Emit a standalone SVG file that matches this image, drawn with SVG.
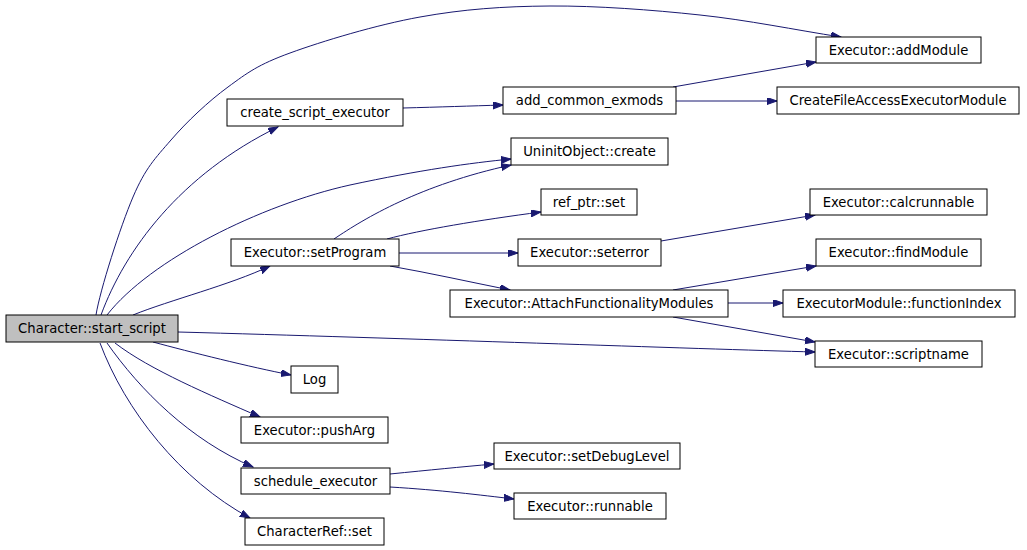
<svg xmlns="http://www.w3.org/2000/svg" width="1027" height="550" viewBox="0 0 1027 550">
<style>
.n rect{fill:#ffffff;stroke:#000000;stroke-width:1}
.n text{font-family:"DejaVu Sans",sans-serif;font-size:13.2px;fill:#000000;text-anchor:middle}
#edges path{fill:none;stroke:#191970;stroke-width:1;marker-end:url(#arr)}
</style>
<defs>
<marker id="arr" markerUnits="userSpaceOnUse" markerWidth="11" markerHeight="8" refX="10" refY="3.5" orient="auto">
<path d="M0,0 L10,3.5 L0,7 z" fill="#191970" stroke="#191970" stroke-width="1"/>
</marker>
</defs>
<rect width="1027" height="550" fill="#ffffff"/>
<g id="edges">
<path d="M96,315 C100,290 120.5,226.2 133,197 C145.5,167.8 155.2,158.3 171,140 C186.8,121.7 208.2,101.5 228,87 C247.8,72.5 258,64.7 290,53 C322,41.3 376.7,24.8 420,17 C463.3,9.2 503.3,6.3 550,6 C596.7,5.7 651.5,9.8 700,15 C748.5,20.2 794,29.7 841,37"/>
<path d="M101,315 C125,250 180,175 278,127"/>
<path d="M107,315 C150,260 260,205 350,185 C420,170 470,163 511,159"/>
<path d="M334,239 C365,218 420,185 511,165"/>
<path d="M133,315 C170,300 230,285 270,266"/>
<path d="M178,332 C400,338 700,349 815,352"/>
<path d="M153,342 C190,352 250,367 291,375"/>
<path d="M115,343 C150,370 210,395 260,417"/>
<path d="M107,343 C140,390 190,440 253,467"/>
<path d="M100,343 C125,410 180,480 250,518"/>
<path d="M403,108 C440,107 470,106 503,105"/>
<path d="M673,87 L816,62"/>
<path d="M676,101 L777,101"/>
<path d="M387,239 C420,230 480,220 541,212"/>
<path d="M399,253 L518,253"/>
<path d="M390,266 C430,273 470,282 510,290"/>
<path d="M661,241 L815,215"/>
<path d="M673,290 L816,266"/>
<path d="M728,303 L783,303"/>
<path d="M673,317 L815,342"/>
<path d="M390,474 C430,470 460,467 494,464"/>
<path d="M390,487 C440,490 480,495 514,499"/>
</g>
<g id="start_script" class="n"><rect x="6" y="315" width="172" height="27" style="fill:#bfbfbf"/><text x="92" y="333">Character::start_script</text></g>
<g id="create_script_executor" class="n"><rect x="227" y="99" width="176" height="27"/><text x="315" y="117">create_script_executor</text></g>
<g id="add_common_exmods" class="n"><rect x="503" y="87" width="173" height="27"/><text x="589.5" y="105">add_common_exmods</text></g>
<g id="addModule" class="n"><rect x="816" y="37" width="165" height="26"/><text x="898.5" y="54.5">Executor::addModule</text></g>
<g id="CreateFileAccessExecutorModule" class="n"><rect x="777" y="87" width="242" height="27"/><text x="898" y="105">CreateFileAccessExecutorModule</text></g>
<g id="UninitObject_create" class="n"><rect x="511" y="138" width="157" height="27"/><text x="589.5" y="156">UninitObject::create</text></g>
<g id="ref_ptr_set" class="n"><rect x="541" y="189" width="96" height="26"/><text x="589" y="206.5">ref_ptr::set</text></g>
<g id="calcrunnable" class="n"><rect x="810" y="189" width="177" height="26"/><text x="898.5" y="206.5">Executor::calcrunnable</text></g>
<g id="setProgram" class="n"><rect x="231" y="239" width="168" height="27"/><text x="315" y="257">Executor::setProgram</text></g>
<g id="seterror" class="n"><rect x="518" y="239" width="143" height="27"/><text x="589.5" y="257">Executor::seterror</text></g>
<g id="findModule" class="n"><rect x="816" y="239" width="165" height="27"/><text x="898.5" y="257">Executor::findModule</text></g>
<g id="AttachFunctionalityModules" class="n"><rect x="450" y="290" width="278" height="27"/><text x="589" y="308">Executor::AttachFunctionalityModules</text></g>
<g id="functionIndex" class="n"><rect x="783" y="290" width="232" height="27"/><text x="899" y="308">ExecutorModule::functionIndex</text></g>
<g id="scriptname" class="n"><rect x="815" y="341" width="167" height="26"/><text x="898.5" y="358.5">Executor::scriptname</text></g>
<g id="Log" class="n"><rect x="291" y="366" width="47" height="27"/><text x="314.5" y="384">Log</text></g>
<g id="pushArg" class="n"><rect x="241" y="417" width="147" height="26"/><text x="314.5" y="434.5">Executor::pushArg</text></g>
<g id="setDebugLevel" class="n"><rect x="494" y="443" width="186" height="26"/><text x="587" y="460.5">Executor::setDebugLevel</text></g>
<g id="schedule_executor" class="n"><rect x="241" y="468" width="149" height="26"/><text x="315.5" y="485.5">schedule_executor</text></g>
<g id="runnable" class="n"><rect x="514" y="493" width="152" height="26"/><text x="590" y="510.5">Executor::runnable</text></g>
<g id="CharacterRef_set" class="n"><rect x="245" y="518" width="139" height="27"/><text x="314.5" y="536">CharacterRef::set</text></g>
</svg>
